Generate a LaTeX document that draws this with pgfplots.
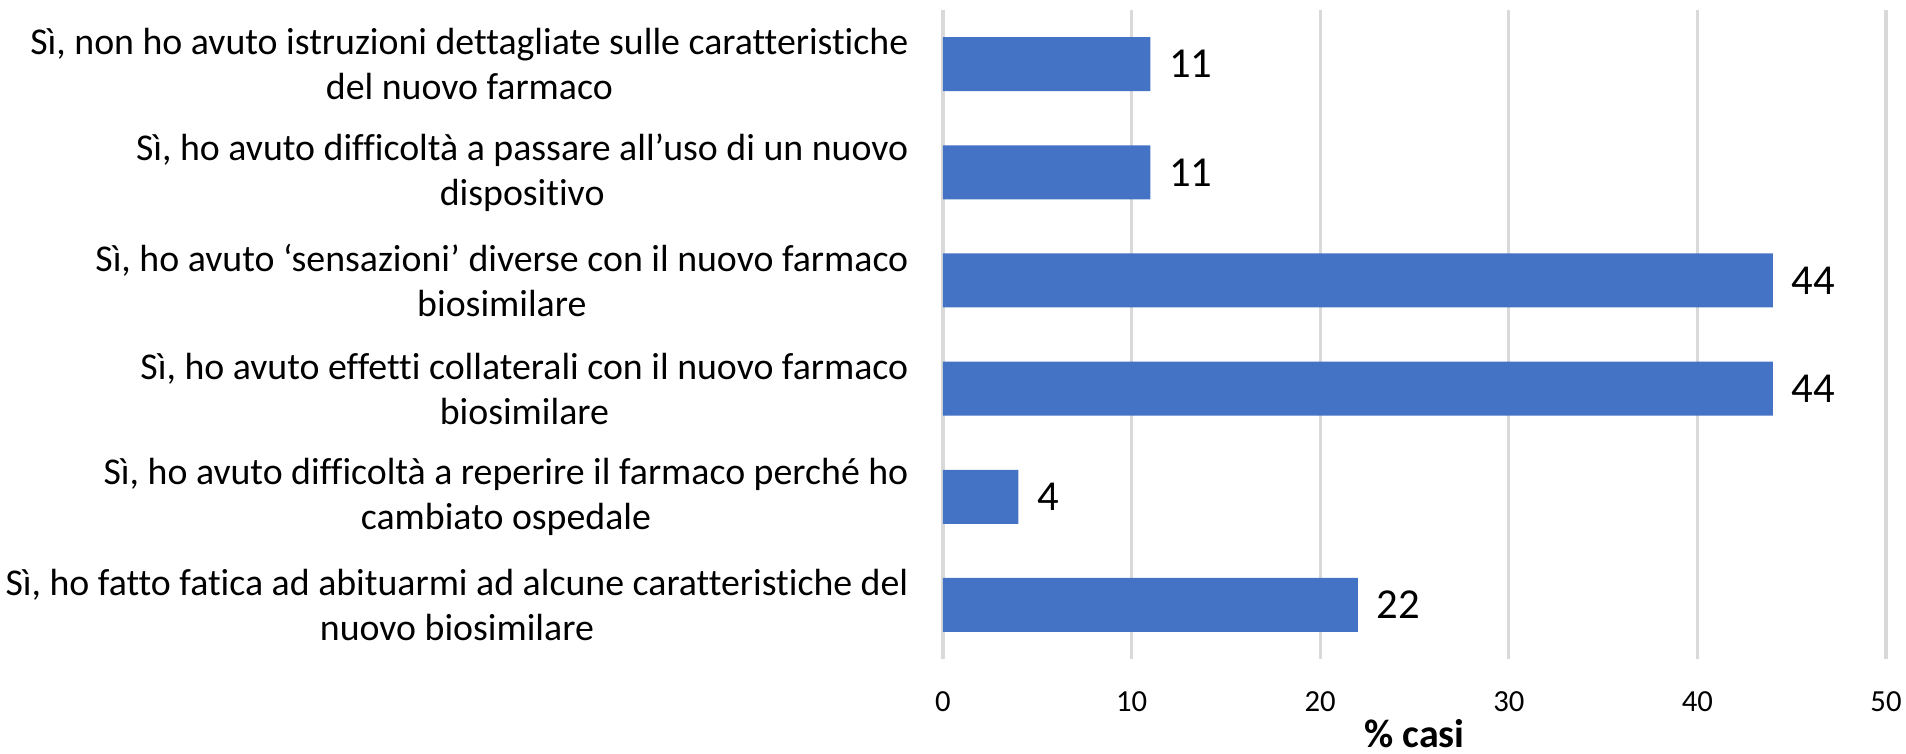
\documentclass[border=0pt]{standalone}
\usepackage{fontspec}
\setmainfont{Carlito}[Ligatures={NoCommon,NoRare,NoContextual}]
\usepackage{pgfplots}
\pgfplotsset{compat=1.18}
\definecolor{barblue}{HTML}{4472C4}
\definecolor{gridgray}{HTML}{D9D9D9}
\begin{document}
\begin{tikzpicture}
\begin{axis}[
  name=ax, at={(0,0)}, anchor=south west,
  scale only axis, width=282.9pt, height=194.7pt,
  xbar, bar width=16.2pt,
  xmin=0, xmax=50, ymin=0.5, ymax=6.5, y dir=reverse,
  xtick={0,10,...,50}, ytick={1,...,6},
  yticklabels={
    {Sì, non ho avuto istruzioni dettagliate sulle caratteristiche\\del nuovo farmaco},
    {Sì, ho avuto difficoltà a passare all’uso di un nuovo\\dispositivo},
    {Sì, ho avuto ‘sensazioni’ diverse con il nuovo farmaco\\biosimilare},
    {Sì, ho avuto effetti collaterali con il nuovo farmaco\\biosimilare},
    {Sì, ho avuto difficoltà a reperire il farmaco perché ho\\cambiato ospedale},
    {Sì, ho fatto fatica ad abituarmi ad alcune caratteristiche del\\nuovo biosimilare}},
  axis line style={draw=none},
  major tick length=0pt,
  xmajorgrids, grid style={gridgray, line width=1pt},
  /pgf/number format/assume math mode=true,
  xticklabel style={font=\fontsize{9.2}{11}\selectfont, anchor=center, inner sep=0pt, yshift=-12.9pt},
  yticklabel style={align=center, font=\fontsize{11.35}{13.5}\selectfont, anchor=east, inner sep=0pt, xshift=-10.2pt},
  xlabel={\textbf{\% casi}},
  xlabel style={font=\fontsize{12}{14}\selectfont, anchor=center, inner sep=0pt, at={(axis description cs:0.5,0)}, yshift=-22.5pt},
  nodes near coords,
  nodes near coords style={font=\fontsize{12.8}{15}\selectfont, anchor=west, inner sep=0pt, xshift=5.4pt, black},
]
\addplot[fill=barblue, draw=none] coordinates {(11,1) (11,2) (44,3) (44,4) (4,5) (22,6)};
\end{axis}
\pgfresetboundingbox
\path (-282.9pt,-28.2pt) rectangle (288.9pt,197.7pt);
\end{tikzpicture}
\end{document}
